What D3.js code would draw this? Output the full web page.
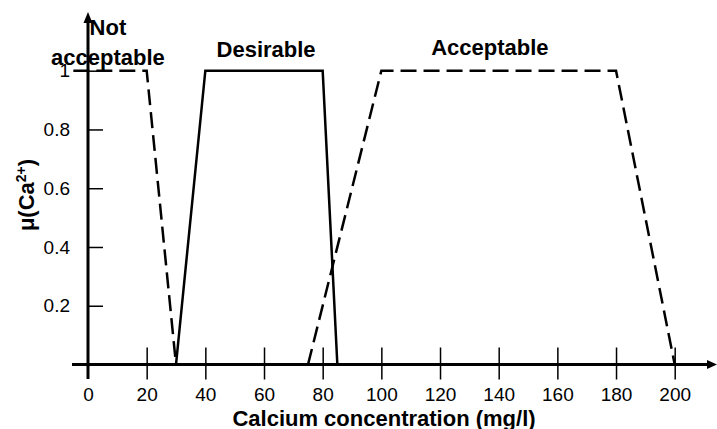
<!DOCTYPE html>
<html>
<head>
<meta charset="utf-8">
<script src="https://cdn.jsdelivr.net/npm/d3@7"></script>
<style>
  body { margin: 0; background: #fff; }
  svg text { font-family: "Liberation Sans", Arial, sans-serif; fill: #000; }
</style>
</head>
<body>
<div id="chart"></div>
<script>
// membership functions, calcium concentration (mg/l) vs mu
var notAcceptable = [{x: -5, y: 1}, {x: 20, y: 1}, {x: 30, y: 0}];
var desirable = [{x: 30, y: 0}, {x: 40, y: 1}, {x: 80, y: 1}, {x: 85, y: 0}];
var acceptable = [{x: 75, y: 0}, {x: 100, y: 1}, {x: 180, y: 1}, {x: 200, y: 0}];

var xTicks = [0, 20, 40, 60, 80, 100, 120, 140, 160, 180, 200];
var yTicks = [0.2, 0.4, 0.6, 0.8, 1];

var labels = [
    {lines: ["Not", "acceptable"], x: 6.8, y: 1.121},
    {lines: ["Desirable"], x: 60.7, y: 1.047},
    {lines: ["Acceptable"], x: 137, y: 1.053}
];

function init() {
    var w = 717, h = 429;

    var svg = d3.select("#chart")
        .append("svg")
        .attr("width", w)
        .attr("height", h);

    var xScale = d3.scaleLinear().domain([0, 200]).range([88, 674.7]);
    var yScale = d3.scaleLinear().domain([0, 1]).range([364.5, 70.7]);

    // x axis (ticks cross the line)
    var xAxis = d3.axisBottom(xScale)
        .tickValues(xTicks)
        .tickFormat(d3.format("d"))
        .tickSize(15)
        .tickPadding(8);
    var gx = svg.append("g")
        .attr("transform", "translate(0," + yScale(0) + ")")
        .call(xAxis);
    gx.select(".domain").remove();
    gx.selectAll(".tick line")
        .attr("y1", -17)
        .attr("stroke-width", 1.5)
        .filter(function(d) { return d === 0; }).remove();
    gx.selectAll(".tick text")
        .attr("font-size", 19)
        .attr("fill", "#000");

    // y axis
    var yAxis = d3.axisLeft(yScale)
        .tickValues(yTicks)
        .tickFormat(function(d) { return d === 1 ? "1" : d3.format(".1f")(d); })
        .tickSize(15)
        .tickPadding(3);
    var gy = svg.append("g")
        .attr("transform", "translate(" + xScale(0) + ",0)")
        .call(yAxis);
    gy.select(".domain").remove();
    gy.selectAll(".tick line")
        .attr("x2", 15)
        .attr("stroke-width", 1.5);
    gy.selectAll(".tick text")
        .attr("font-size", 19)
        .attr("fill", "#000");

    // axis lines with arrowheads
    svg.append("line")
        .attr("x1", 72).attr("x2", 710)
        .attr("y1", yScale(0)).attr("y2", yScale(0))
        .attr("stroke", "#000").attr("stroke-width", 3);
    svg.append("path")
        .attr("d", "M717," + yScale(0) + " L707," + (yScale(0) - 4.5) + " L707," + (yScale(0) + 4.5) + "Z")
        .attr("fill", "#000");
    svg.append("line")
        .attr("x1", xScale(0)).attr("x2", xScale(0))
        .attr("y1", 379).attr("y2", 20)
        .attr("stroke", "#000").attr("stroke-width", 3);
    svg.append("path")
        .attr("d", "M" + xScale(0) + ",12 L" + (xScale(0) - 4.5) + ",23 L" + (xScale(0) + 4.5) + ",23Z")
        .attr("fill", "#000");

    var line = d3.line()
        .x(function(d) { return xScale(d.x); })
        .y(function(d) { return yScale(d.y); });

    svg.append("path")
        .datum(notAcceptable)
        .attr("d", line)
        .attr("fill", "none")
        .attr("stroke", "#000")
        .attr("stroke-width", 2.5)
        .attr("stroke-dasharray", "16 7");

    svg.append("path")
        .datum(desirable)
        .attr("d", line)
        .attr("fill", "none")
        .attr("stroke", "#000")
        .attr("stroke-width", 2.5);

    svg.append("path")
        .datum(acceptable)
        .attr("d", line)
        .attr("fill", "none")
        .attr("stroke", "#000")
        .attr("stroke-width", 2.5)
        .attr("stroke-dasharray", "16 7");

    // set labels
    labels.forEach(function(l) {
        var t = svg.append("text")
            .attr("x", xScale(l.x))
            .attr("y", yScale(l.y))
            .attr("text-anchor", "middle")
            .attr("font-size", 22)
            .attr("font-weight", "bold");
        l.lines.forEach(function(s, i) {
            t.append("tspan")
                .attr("x", xScale(l.x))
                .attr("dy", i === 0 ? 0 : 30)
                .text(s);
        });
    });

    // axis titles
    svg.append("text")
        .attr("x", 384)
        .attr("y", 426)
        .attr("text-anchor", "middle")
        .attr("font-size", 22)
        .attr("font-weight", "bold")
        .text("Calcium concentration (mg/l)");

    var yt = svg.append("text")
        .attr("transform", "translate(34,195) rotate(-90)")
        .attr("text-anchor", "middle")
        .attr("font-size", 22)
        .attr("font-weight", "bold");
    yt.append("tspan").text("\u03bc(Ca");
    yt.append("tspan").attr("dy", -8).attr("font-size", 14).text("2+");
    yt.append("tspan").attr("dy", 8).text(")");
}

window.onload = init;
</script>
</body>
</html>
